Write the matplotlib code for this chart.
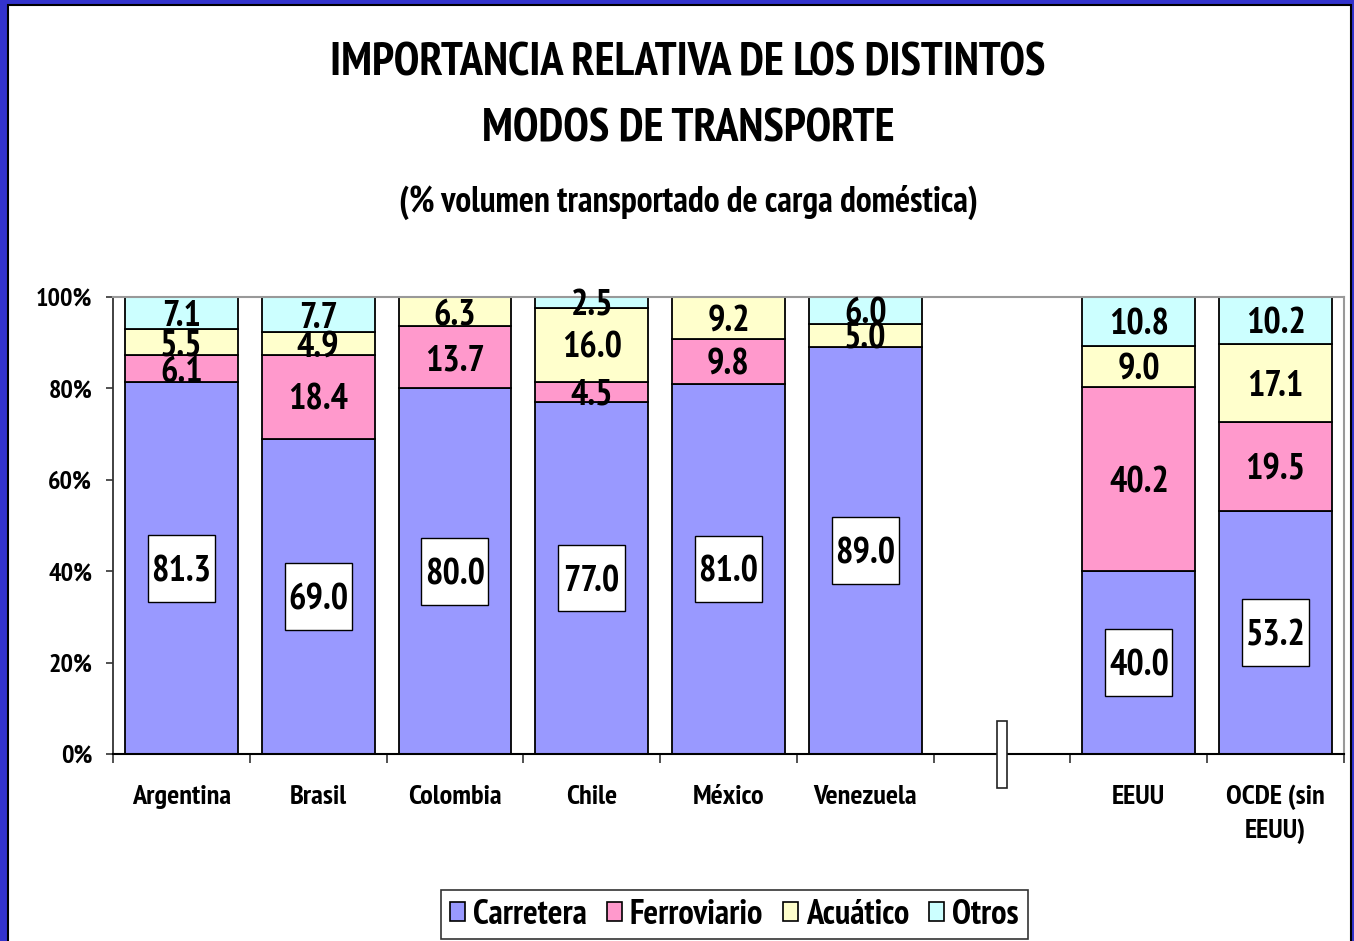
import matplotlib
matplotlib.use("Agg")
import matplotlib.pyplot as plt
from matplotlib import font_manager
from matplotlib.font_manager import FontProperties
from matplotlib.textpath import TextPath
from matplotlib.patches import Rectangle, Patch
import numpy as np

# pick a condensed bold sans available on this machine
entries = font_manager.fontManager.ttflist
pref = ['Liberation Sans Narrow', 'Arial Narrow', 'PT Sans Narrow', 'Pragati Narrow',
        'Archivo Narrow', 'Roboto Condensed', 'Liberation Sans']
chosen = None
for n in pref:
    if any(e.name == n and (e.weight in ('bold', 700) or str(e.weight) == '700') for e in entries):
        chosen = n
        break
if chosen is None:
    chosen = 'Liberation Sans'
FAM = [chosen, 'DejaVu Sans']
plt.rcParams['font.family'] = FAM
plt.rcParams['font.weight'] = 'bold'

categories = ['Argentina', 'Brasil', 'Colombia', 'Chile', 'México', 'Venezuela', '', 'EEUU', 'OCDE (sin\nEEUU)']
carretera   = [81.3, 69.0, 80.0, 77.0, 81.0, 89.0, 0, 40.0, 53.2]
ferroviario = [6.1, 18.4, 13.7, 4.5, 9.8, 0.0, 0, 40.2, 19.5]
acuatico    = [5.5, 4.9, 6.3, 16.0, 9.2, 5.0, 0, 9.0, 17.1]
otros       = [7.1, 7.7, 0.0, 2.5, 0.0, 6.0, 0, 10.8, 10.2]
series = [('Carretera', carretera, '#9999FF'),
          ('Ferroviario', ferroviario, '#FF99CC'),
          ('Acuático', acuatico, '#FFFFCC'),
          ('Otros', otros, '#CCFFFF')]
yticks = [0, 20, 40, 60, 80, 100]
ytick_labels = ['0%', '20%', '40%', '60%', '80%', '100%']
title1 = 'IMPORTANCIA RELATIVA DE LOS DISTINTOS'
title2 = 'MODOS DE TRANSPORTE'
subtitle = '(% volumen transportado de carga doméstica)'

DPI = 100
FP = FontProperties(family=FAM, weight='bold')


def fit(s, target_px, base=20.0):
    w = TextPath((0, 0), s, size=base, prop=FP).get_extents().width * DPI / 72.0
    return base * target_px / w if w > 0 else base


fs_title = fit(title1, 711)
fs_sub = fit(subtitle, 577)
fs_ytick = fit('100%', 54)
fs_xtick = fit('Argentina', 98)
fs_val = fit('81.3', 56)
fs_leg = fit('Carretera', 112)
leg_px = fs_leg * DPI / 72.0

W, H = 1354, 941
fig = plt.figure(figsize=(W/DPI, H/DPI), dpi=DPI, facecolor='#3333CC')
fig.patches.append(Rectangle((8/W, -0.05), (1351-8)/W, 1.05 - 5/H, transform=fig.transFigure,
                             facecolor='white', edgecolor='black', lw=1.5, zorder=-5))

ax = fig.add_axes([113/W, 1-754/H, (1344-113)/W, (754-297)/H])
ax.set_facecolor('none')
x = np.arange(len(categories))
bw = 0.825
box_w, box_h = 0.49, 14.6
bottom = np.zeros(len(categories))
for name, vals, col in series:
    vals = np.array(vals, dtype=float)
    mask = vals > 0
    ax.bar(x[mask], vals[mask], bw, bottom=bottom[mask], color=col, edgecolor='black', lw=1.3, zorder=2)
    for xi, v, b in zip(x[mask], vals[mask], bottom[mask]):
        yc = b + v/2
        if name == 'Carretera':
            ax.add_patch(Rectangle((xi - box_w/2, yc - box_h/2), box_w, box_h, facecolor='white',
                                   edgecolor='black', lw=1.0, zorder=3))
        ax.text(xi, yc, f'{v:.1f}', ha='center', va='center_baseline', fontsize=fs_val, fontweight='bold', zorder=4)
    bottom = bottom + vals

ax.set_xlim(-0.5, len(categories) - 0.5)
ax.set_ylim(0, 100)
ax.set_yticks(yticks)
ax.set_yticklabels(ytick_labels, fontsize=fs_ytick, fontweight='bold')
ax.set_xticks(x)
ax.set_xticklabels(categories, fontsize=fs_xtick, fontweight='bold', linespacing=1.45)
ax.tick_params(axis='x', length=0, pad=22)
ax.set_xticks(np.arange(-0.5, len(categories)), minor=True)
ax.tick_params(axis='x', which='minor', length=6.5, width=1.2, color='#333333')
ax.tick_params(axis='y', length=5, width=1.2, color='#333333', pad=10)
for s in ['top', 'right']:
    ax.spines[s].set_color('#999999')
    ax.spines[s].set_linewidth(1.5)
ax.spines['left'].set_color('#333333')
ax.spines['left'].set_linewidth(1.3)
ax.spines['bottom'].set_color('black')
ax.spines['bottom'].set_linewidth(1.5)

# axis break marker at the empty slot
blank = categories.index('')
ax.add_patch(Rectangle((blank - 0.035, -0.074), 0.07, 0.147, transform=ax.get_xaxis_transform(),
                       facecolor='white', edgecolor='#222222', lw=1.2, clip_on=False, zorder=5))

fig.text(0.508, 1-64/H, title1, ha='center', va='center', fontsize=fs_title, fontweight='bold')
fig.text(0.508, 1-130/H, title2, ha='center', va='center', fontsize=fs_title, fontweight='bold')
fig.text(0.5085, 1-202/H, subtitle, ha='center', va='center', fontsize=fs_sub, fontweight='bold')

handles = [Patch(facecolor=c, edgecolor='black', lw=1.2) for _, _, c in series]
leg = fig.legend(handles, [n for n, _, _ in series], loc='center', bbox_to_anchor=(734.5/W, 1-914.5/H),
                 ncol=4, frameon=True, fancybox=False, edgecolor='black',
                 handlelength=15/leg_px, handleheight=16/leg_px, handletextpad=8/leg_px,
                 columnspacing=20/leg_px, borderpad=0.25, borderaxespad=0,
                 prop={'weight': 'bold', 'size': fs_leg, 'family': FAM})
leg.get_frame().set_linewidth(1.2)

fig.savefig('out.png', dpi=DPI, facecolor=fig.get_facecolor())
